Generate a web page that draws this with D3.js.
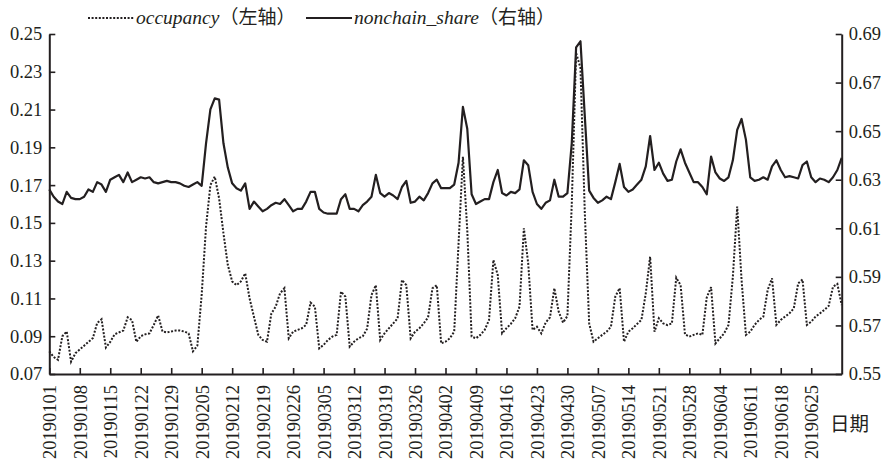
<!DOCTYPE html>
<html>
<head>
<meta charset="utf-8">
<script src="https://cdn.jsdelivr.net/npm/d3@7"></script>
<style>
  body { margin: 0; background: #fff; }
  svg { display: block; }
  .serif { font-family: "Liberation Serif", "DejaVu Serif", serif; }
</style>
</head>
<body>
<div id="chart"></div>
<script>
// daily values, 20190101 .. 20190702
var occupancy = [
  0.082, 0.079, 0.0775, 0.090, 0.0925, 0.0765, 0.081, 0.083, 0.085, 0.087,
  0.089, 0.097, 0.099, 0.084, 0.087, 0.091, 0.092, 0.093, 0.100, 0.0985,
  0.087, 0.090, 0.091, 0.0915, 0.096, 0.101, 0.0925, 0.092, 0.0925, 0.093,
  0.093, 0.0925, 0.0915, 0.082, 0.085, 0.112, 0.148, 0.170, 0.1745, 0.163,
  0.1445, 0.1277, 0.119, 0.117, 0.119, 0.1233, 0.110, 0.1003, 0.0907, 0.088,
  0.0871, 0.102, 0.1057, 0.1127, 0.1154, 0.0889, 0.0924, 0.0933, 0.0942, 0.096,
  0.1078, 0.1057, 0.0836, 0.0854, 0.088, 0.0898, 0.0907, 0.1136, 0.111, 0.0845,
  0.0871, 0.0889, 0.090, 0.094, 0.1118, 0.117, 0.088, 0.0915, 0.0942, 0.0968,
  0.0995, 0.1198, 0.117, 0.0889, 0.0924, 0.0942, 0.0968, 0.100, 0.1154, 0.117,
  0.0862, 0.0871, 0.0889, 0.0924, 0.1392, 0.185, 0.1462, 0.0898, 0.0889, 0.0907,
  0.0933, 0.0986, 0.1304, 0.1224, 0.0915, 0.0942, 0.0965, 0.0995, 0.1057, 0.1471,
  0.1286, 0.0933, 0.095, 0.0915, 0.0972, 0.100, 0.1154, 0.103, 0.0972, 0.1007,
  0.160, 0.240, 0.232, 0.155, 0.0968, 0.0871, 0.0889, 0.0907, 0.0924, 0.095,
  0.111, 0.1154, 0.0871, 0.0924, 0.0942, 0.0965, 0.0986, 0.1127, 0.1321, 0.0924,
  0.0995, 0.0968, 0.0959, 0.0968, 0.121, 0.117, 0.091, 0.0898, 0.0907, 0.0915,
  0.0907, 0.1105, 0.116, 0.0862, 0.0889, 0.0915, 0.096, 0.1215, 0.1586, 0.1198,
  0.0907, 0.0924, 0.096, 0.0986, 0.1004, 0.1145, 0.1207, 0.096, 0.0986, 0.1004,
  0.1021, 0.1048, 0.118, 0.120, 0.096, 0.0977, 0.1004, 0.1021, 0.1039, 0.106,
  0.1162, 0.1177, 0.1065
];

var nonchainShare = [
  0.626, 0.623, 0.621, 0.620, 0.625, 0.6225, 0.622, 0.622, 0.623, 0.626,
  0.625, 0.629, 0.628, 0.625, 0.630, 0.631, 0.632, 0.629, 0.633, 0.629,
  0.630, 0.631, 0.6305, 0.631, 0.629, 0.6285, 0.629, 0.6295, 0.629, 0.629,
  0.6285, 0.6275, 0.627, 0.628, 0.629, 0.6275, 0.645, 0.659, 0.6635, 0.663,
  0.645, 0.635, 0.6285, 0.6265, 0.6255, 0.6285, 0.618, 0.621, 0.619, 0.617,
  0.618, 0.6195, 0.6205, 0.620, 0.622, 0.6195, 0.617, 0.618, 0.618, 0.621,
  0.625, 0.625, 0.618, 0.6165, 0.616, 0.616, 0.616, 0.622, 0.624, 0.618,
  0.618, 0.617, 0.6195, 0.621, 0.623, 0.632, 0.6245, 0.623, 0.6245, 0.6235,
  0.622, 0.627, 0.6295, 0.6205, 0.621, 0.623, 0.6215, 0.6245, 0.6285, 0.630,
  0.6265, 0.6265, 0.6265, 0.628, 0.637, 0.660, 0.651, 0.624, 0.620, 0.621,
  0.622, 0.622, 0.629, 0.634, 0.6245, 0.6235, 0.625, 0.6245, 0.626, 0.638,
  0.636, 0.625, 0.620, 0.618, 0.6205, 0.6215, 0.630, 0.623, 0.623, 0.6245,
  0.645, 0.6845, 0.687, 0.656, 0.6255, 0.6225, 0.6205, 0.6215, 0.623, 0.622,
  0.629, 0.6365, 0.627, 0.625, 0.626, 0.628, 0.630, 0.6355, 0.648, 0.634,
  0.637, 0.6325, 0.6295, 0.630, 0.6375, 0.6425, 0.637, 0.633, 0.629, 0.629,
  0.627, 0.624, 0.6395, 0.633, 0.6305, 0.6295, 0.631, 0.638, 0.6505, 0.655,
  0.6465, 0.631, 0.6295, 0.630, 0.631, 0.630, 0.6355, 0.638, 0.634, 0.631,
  0.6315, 0.631, 0.6305, 0.636, 0.6375, 0.631, 0.629, 0.6305, 0.630, 0.629,
  0.631, 0.634, 0.639
];

var tickLabels = ["20190101","20190108","20190115","20190122","20190129","20190205",
  "20190212","20190219","20190226","20190305","20190312","20190319","20190326",
  "20190402","20190409","20190416","20190423","20190430","20190507","20190514",
  "20190521","20190528","20190604","20190611","20190618","20190625"];
var leftTicks = [0.07, 0.09, 0.11, 0.13, 0.15, 0.17, 0.19, 0.21, 0.23, 0.25];
var rightTicks = [0.55, 0.57, 0.59, 0.61, 0.63, 0.65, 0.67, 0.69];

var width = 883, height = 459;
var plot = {left: 49.3, right: 841.7, top: 34, bottom: 374};
var ink = "#231f20";
var cjk = "Noto Sans CJK SC";

var fmtDay = d3.timeFormat("%Y%m%d");
var start = new Date(2019, 0, 1);
var days = occupancy.map(function(d, i) { return fmtDay(d3.timeDay.offset(start, i)); });

var svg = d3.select("#chart").append("svg")
  .attr("width", width)
  .attr("height", height);

var x = d3.scaleLinear()
  .domain([0, days.length - 1])
  .range([plot.left, plot.right]);

var yL = d3.scaleLinear().domain([0.07, 0.25]).range([plot.bottom, plot.top]);
var yR = d3.scaleLinear().domain([0.55, 0.69]).range([plot.bottom, plot.top]);

function styleAxis(g) {
  g.attr("font-family", null).attr("font-size", null).attr("class", "serif");
  g.select(".domain").attr("stroke", ink).attr("stroke-width", 2);
  g.selectAll(".tick line").attr("stroke", ink).attr("stroke-width", 1.6);
  g.selectAll(".tick text").attr("fill", ink).attr("font-size", "18.5px");
}

// left axis
svg.append("g")
  .attr("transform", "translate(" + plot.left + ",0)")
  .call(d3.axisLeft(yL).tickValues(leftTicks).tickSizeInner(-6).tickSizeOuter(0)
    .tickPadding(7).tickFormat(d3.format(".2f")))
  .call(styleAxis);

// right axis
svg.append("g")
  .attr("transform", "translate(" + plot.right + ",0)")
  .call(d3.axisRight(yR).tickValues(rightTicks).tickSizeInner(-6).tickSizeOuter(0)
    .tickPadding(7).tickFormat(d3.format(".2f")))
  .call(styleAxis);

// bottom axis
var tickDays = tickLabels.map(function(t) { return days.indexOf(t); });
var xAxis = svg.append("g")
  .attr("transform", "translate(0," + plot.bottom + ")")
  .call(d3.axisBottom(x).tickValues(tickDays).tickSizeInner(-6).tickSizeOuter(0)
    .tickFormat(function(i) { return days[i]; }))
  .call(styleAxis);
xAxis.selectAll(".tick text")
  .attr("transform", "rotate(-90)")
  .attr("x", -11)
  .attr("y", 0)
  .attr("dy", "0.35em")
  .style("text-anchor", "end");

svg.append("text")
  .attr("x", 830)
  .attr("y", 431)
  .attr("fill", ink)
  .attr("font-family", cjk)
  .attr("font-size", "19.5px")
  .text("日期");

// lines
var lineL = d3.line().x(function(d, i) { return x(i); }).y(function(d) { return yL(d); });
var lineR = d3.line().x(function(d, i) { return x(i); }).y(function(d) { return yR(d); });

svg.append("path")
  .datum(occupancy)
  .attr("fill", "none")
  .attr("stroke", ink)
  .attr("stroke-width", 2)
  .attr("stroke-dasharray", "2,1.6")
  .attr("d", lineL);

svg.append("path")
  .datum(nonchainShare)
  .attr("fill", "none")
  .attr("stroke", ink)
  .attr("stroke-width", 2.2)
  .attr("stroke-linejoin", "round")
  .attr("d", lineR);

// legend
var legend = [
  {name: "occupancy", side: "（左轴）", dash: "2,1.6", x0: 88, x1: 134},
  {name: "nonchain_share", side: "（右轴）", dash: null, x0: 306, x1: 352}
];
legend.forEach(function(l) {
  svg.append("line")
    .attr("x1", l.x0).attr("x2", l.x1)
    .attr("y1", 18).attr("y2", 18)
    .attr("stroke", ink)
    .attr("stroke-width", 2)
    .attr("stroke-dasharray", l.dash);
  var t = svg.append("text")
    .attr("x", l.x1 + 2)
    .attr("y", 24)
    .attr("fill", ink)
    .attr("font-size", "19.5px");
  t.append("tspan").attr("class", "serif").attr("font-style", "italic").text(l.name);
  t.append("tspan").attr("font-family", cjk).attr("font-size", "19px").text(l.side);
});
</script>
</body>
</html>
